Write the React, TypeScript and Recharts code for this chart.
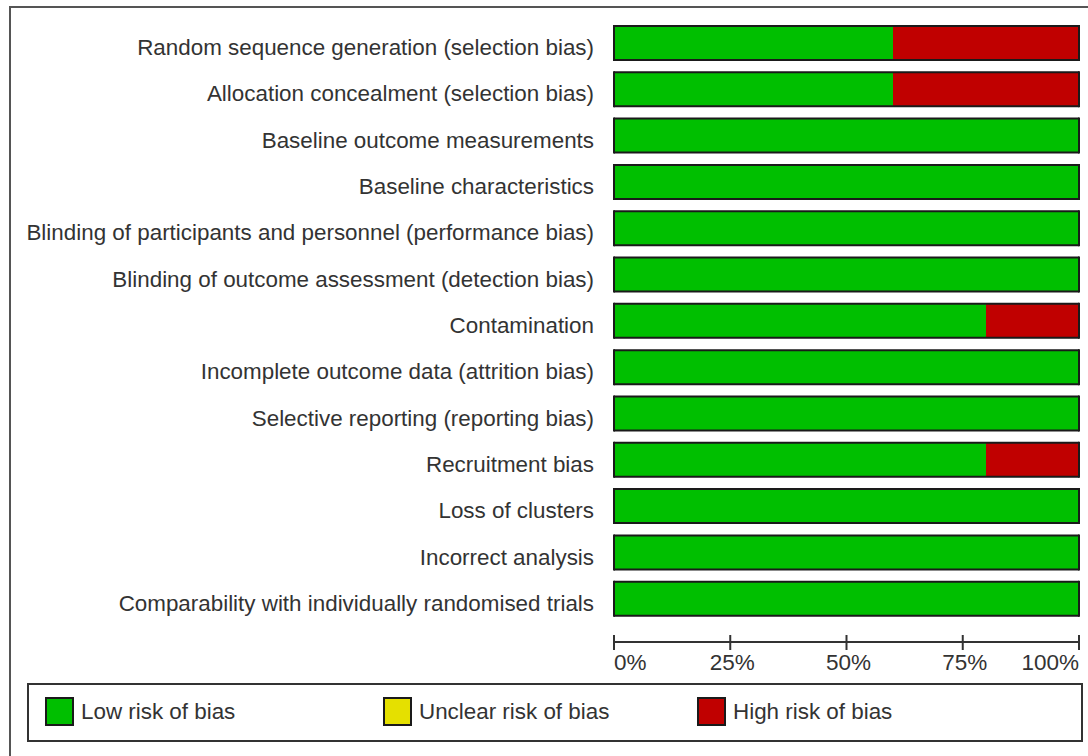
import React from 'react'
import { BarChart, Bar, XAxis, YAxis } from 'recharts'

const domains = [
  'Random sequence generation (selection bias)',
  'Allocation concealment (selection bias)',
  'Baseline outcome measurements',
  'Baseline characteristics',
  'Blinding of participants and personnel (performance bias)',
  'Blinding of outcome assessment (detection bias)',
  'Contamination',
  'Incomplete outcome data (attrition bias)',
  'Selective reporting (reporting bias)',
  'Recruitment bias',
  'Loss of clusters',
  'Incorrect analysis',
  'Comparability with individually randomised trials',
]

const lowRisk = [60, 60, 100, 100, 100, 100, 80, 100, 100, 80, 100, 100, 100]
const unclearRisk = [0, 0, 0, 0, 0, 0, 0, 0, 0, 0, 0, 0, 0]
const highRisk = [40, 40, 0, 0, 0, 0, 20, 0, 0, 20, 0, 0, 0]

const xTicks = [0, 25, 50, 75, 100]

const GREEN = '#00bf00'
const YELLOW = '#e5e000'
const RED = '#c00000'
const EDGE = '#1a1a1a'
const TEXT = '#333'
const FONT = '"Liberation Sans", Arial, sans-serif'

const data = domains.map((name, i) => ({
  name,
  low: lowRisk[i],
  unclear: unclearRisk[i],
  high: highRisk[i],
}))

// outline only the outer edges of the stacked bar, no divider between segments
const makeShape = (key: 'low' | 'unclear' | 'high', color: string) => (props: any) => {
  const { x, y, width, height, payload } = props
  if (!width || width <= 0) return null
  const isFirst = key === 'low' || (key === 'unclear' && payload.low === 0) || (key === 'high' && payload.low + payload.unclear === 0)
  const isLast = key === 'high' || (key === 'unclear' && payload.high === 0) || (key === 'low' && payload.unclear + payload.high === 0)
  const x2 = x + width
  const y2 = y + height
  return (
    <g>
      <rect x={x} y={y} width={width} height={height} fill={color} />
      <line x1={x} y1={y} x2={x2} y2={y} stroke={EDGE} strokeWidth={2} />
      <line x1={x} y1={y2} x2={x2} y2={y2} stroke={EDGE} strokeWidth={2} />
      {isFirst && <line x1={x} y1={y - 1} x2={x} y2={y2 + 1} stroke={EDGE} strokeWidth={2} />}
      {isLast && <line x1={x2} y1={y - 1} x2={x2} y2={y2 + 1} stroke={EDGE} strokeWidth={2} />}
    </g>
  )
}

const XTick = ({ x, y, payload }: any) => {
  const v = payload.value
  const anchor = v === 0 ? 'start' : v === 100 ? 'end' : 'middle'
  const dx = v === 0 ? 0 : v === 100 ? 0 : 2
  return (
    <g>
      <line x1={x} y1={y - 7} x2={x} y2={y + 8} stroke={TEXT} strokeWidth={2} />
      <text x={x + dx} y={y + 28} textAnchor={anchor} fill={TEXT} fontSize={22.5} fontFamily={FONT}>
        {v}%
      </text>
    </g>
  )
}

const YTick = ({ x, y, payload }: any) => (
  <text x={x} y={y + 12} textAnchor="end" fill={TEXT} fontSize={22.4} fontFamily={FONT}>
    {payload.value}
  </text>
)

const legendItems = [
  { label: 'Low risk of bias', color: GREEN, left: 45 },
  { label: 'Unclear risk of bias', color: YELLOW, left: 383 },
  { label: 'High risk of bias', color: RED, left: 697 },
]

export default function App() {
  return (
    <div style={{ position: 'absolute', left: 0, top: 0, width: 1088, height: 756, background: '#fff', overflow: 'hidden', fontFamily: FONT }}>
      {/* outer frame */}
      <div style={{ position: 'absolute', left: 9, top: 6, width: 1100, height: 760, border: '2px solid #555', boxSizing: 'border-box' }} />

      <div style={{ position: 'absolute', left: 0, top: 0 }}>
        <BarChart
          width={1088}
          height={682}
          data={data}
          layout="vertical"
          margin={{ top: 20, right: 9, bottom: 10, left: 0 }}
          barSize={34}
        >
          <XAxis
            type="number"
            domain={[0, 100]}
            ticks={xTicks}
            tick={<XTick />}
            tickLine={false}
            tickSize={0}
            tickMargin={0}
            axisLine={{ stroke: TEXT, strokeWidth: 2 }}
            interval={0}
            height={30}
          />
          <YAxis
            type="category"
            dataKey="name"
            width={614}
            tickLine={false}
            axisLine={false}
            tickSize={0}
            tickMargin={20}
            padding={{ top: 0, bottom: 20 }}
            interval={0}
            tick={<YTick />}
          />
          <Bar dataKey="low" stackId="a" isAnimationActive={false} shape={makeShape('low', GREEN)} />
          <Bar dataKey="unclear" stackId="a" isAnimationActive={false} shape={makeShape('unclear', YELLOW)} />
          <Bar dataKey="high" stackId="a" isAnimationActive={false} shape={makeShape('high', RED)} />
        </BarChart>
      </div>

      {/* legend */}
      <div style={{ position: 'absolute', left: 27, top: 683, width: 1056, height: 59, border: '2px solid #333', boxSizing: 'border-box', background: '#fff' }}>
        {legendItems.map((it) => (
          <div key={it.label} style={{ position: 'absolute', left: it.left - 29, top: 12, display: 'flex', alignItems: 'center' }}>
            <div style={{ width: 29, height: 29, background: it.color, border: `2px solid ${EDGE}`, boxSizing: 'border-box' }} />
            <span style={{ marginLeft: 7, fontSize: 22.4, color: TEXT, lineHeight: '29px' }}>{it.label}</span>
          </div>
        ))}
      </div>
    </div>
  )
}
